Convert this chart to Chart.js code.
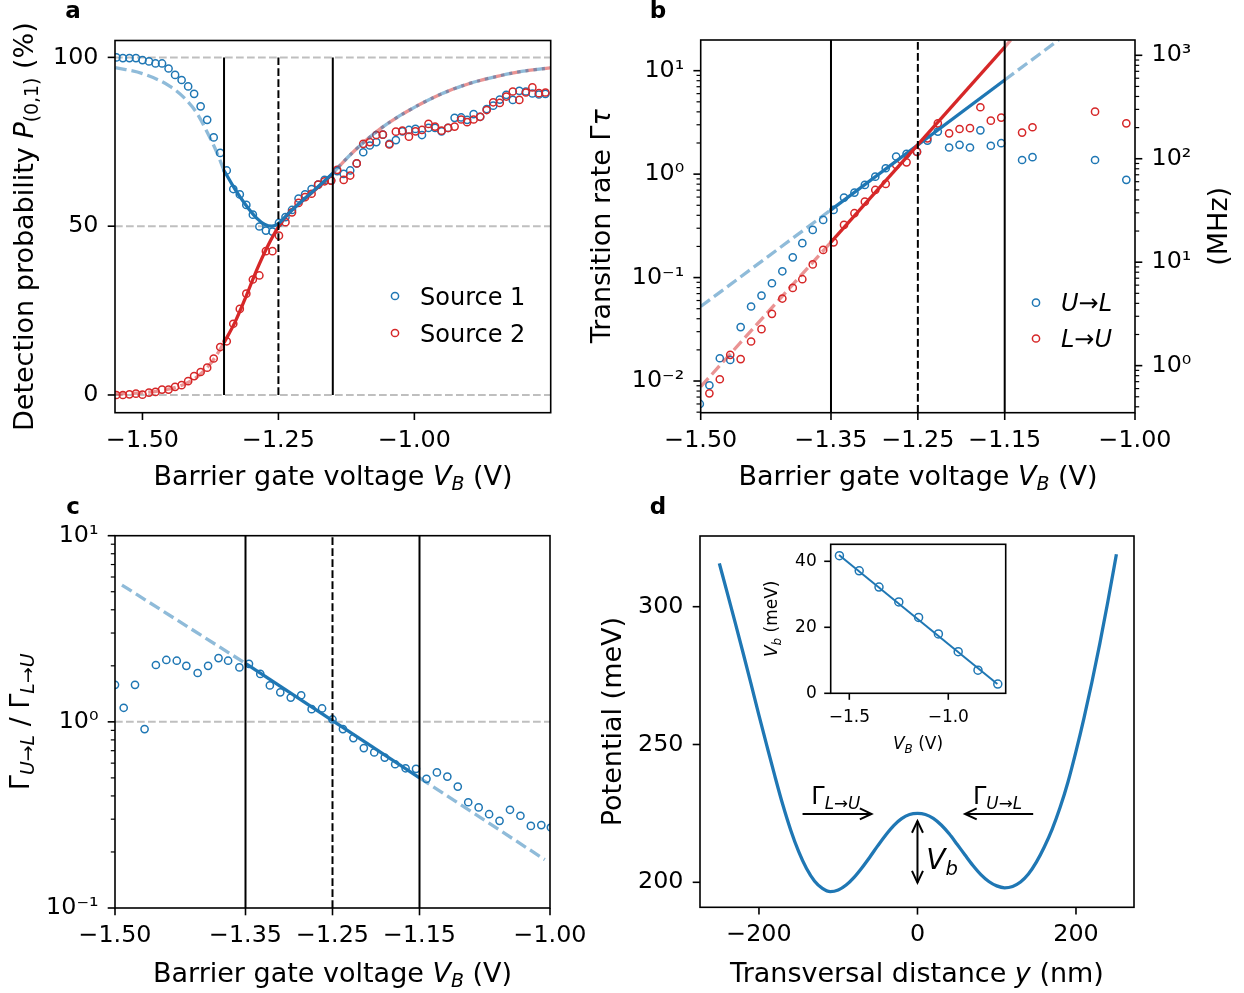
<!DOCTYPE html>
<html>
<head>
<meta charset="utf-8">
<title>Figure</title>
<script src="https://cdn.jsdelivr.net/npm/chart.js@4.4.1/dist/chart.umd.min.js"></script>
<style>
  html, body { margin: 0; padding: 0; background: #fff; }
  #fig { position: relative; width: 1244px; height: 993px; background: #fff; overflow: hidden; }
  #fig canvas { position: absolute; left: 0; top: 0; }
</style>
</head>
<body>
<div id="fig">
  <canvas id="chartA" width="1244" height="993"></canvas>
  <canvas id="chartB" width="1244" height="993"></canvas>
  <canvas id="chartC" width="1244" height="993"></canvas>
  <canvas id="chartD" width="1244" height="993"></canvas>
  <canvas id="chartInset" width="1244" height="993"></canvas>
</div>
<script>
/* ======================================================
   Datos
====================================================== */

// panel a: probabilidad de detección (%)
const vA = [-1.548,-1.536,-1.524,-1.512,-1.500,-1.488,-1.476,-1.464,-1.452,-1.440,
  -1.428,-1.416,-1.405,-1.393,-1.381,-1.369,-1.357,-1.345,-1.333,-1.321,
  -1.309,-1.297,-1.285,-1.273,-1.261,-1.249,-1.237,-1.225,-1.213,-1.201,
  -1.189,-1.177,-1.165,-1.153,-1.142,-1.130,-1.118,-1.106,-1.094,-1.082,
  -1.070,-1.058,-1.046,-1.034,-1.022,-1.010,-0.998,-0.986,-0.974,-0.962,
  -0.950,-0.938,-0.926,-0.914,-0.903,-0.891,-0.879,-0.867,-0.855,-0.843,
  -0.831,-0.819,-0.807,-0.795,-0.783,-0.771,-0.759];
const probSource1 = [100,99.8,99.8,99.8,99.2,98.8,98.2,98.2,96.7,94.8,
  93.3,91.4,89.2,85.5,81.5,76.3,71.7,66.5,61.0,59.4,
  56.3,53.4,49.9,48.7,48.4,51.0,52.7,54.8,58.2,59.4,
  61.0,62.3,63.7,63.5,66.3,65.5,66.5,68.6,71.9,73.9,
  74.9,77.1,74.4,75.5,78.1,78.5,78.8,77.0,79.1,79.1,
  78.1,79.1,82.1,82.2,81.5,83.2,82.4,84.7,85.7,87.5,
  88.9,87.4,90.1,89.9,89.3,89.0,89.2];
const probSource2 = [0,0,0.2,0.4,0.1,0.7,0.9,1.6,1.6,2.4,
  2.9,4.1,5.6,6.8,8.1,10.8,14.2,15.9,21.1,25.5,
  30.0,34.2,35.4,42.6,42.6,47.2,51.2,54.1,56.9,58.6,
  59.6,62.3,63.3,63.5,66.7,63.7,65.0,68.6,74.4,74.9,
  77.0,77.1,74.2,78.0,78.3,76.5,78.1,78.5,80.3,79.5,
  78.3,79.1,79.5,81.6,80.8,81.6,82.4,84.4,86.7,86.5,
  88.4,89.9,87.4,89.6,91.1,89.4,89.6];
const fitS1Left  = [[-1.550,97.0],[-1.500,95.2],[-1.450,91.5],[-1.420,87.5],[-1.400,83.5],[-1.380,77.5],[-1.365,72.5],[-1.350,66.5]];
const fitS1Mid   = [[-1.350,66.5],[-1.330,61.0],[-1.310,56.3],[-1.290,52.4],[-1.275,50.5],[-1.262,50.0],[-1.250,50.8],[-1.230,54.0],[-1.200,58.4],[-1.175,62.0],[-1.150,65.7]];
const fitS2Left  = [[-1.550,0.3],[-1.500,0.7],[-1.450,1.8],[-1.420,3.4],[-1.400,5.3],[-1.380,8.3],[-1.365,11.5],[-1.350,15.5]];
const fitS2Mid   = [[-1.350,15.5],[-1.330,21.5],[-1.310,29.0],[-1.290,37.0],[-1.270,44.0],[-1.250,49.8],[-1.230,54.0],[-1.200,58.3],[-1.175,61.8],[-1.150,65.5]];
const fitRightA  = [[-1.150,65.7],[-1.120,70.8],[-1.090,75.3],[-1.050,80.3],[-1.000,85.2],[-0.950,89.2],[-0.900,92.2],[-0.850,94.3],[-0.800,95.9],[-0.750,96.9]];
const refLevelsA = [0, 50, 100];

// panel b: tasas de transición
const vB = [-1.501,-1.490,-1.478,-1.466,-1.454,-1.442,-1.430,-1.418,-1.406,-1.394,
  -1.383,-1.371,-1.359,-1.347,-1.335,-1.323,-1.311,-1.299,-1.287,-1.275,
  -1.263,-1.251,-1.239,-1.227,-1.214,-1.202,-1.190,-1.178,-1.166,-1.154,
  -1.130,-1.118,-1.046,-1.010];
const rateUL = [0.0060,0.0091,0.0166,0.0160,0.0332,0.0525,0.0670,0.0881,0.115,0.157,
  0.215,0.289,0.361,0.451,0.593,0.663,0.787,0.946,1.14,1.48,
  1.57,1.65,2.11,2.58,1.81,1.92,1.81,2.65,1.88,1.99,
  1.37,1.46,1.37,0.88];
const rateLU = [0.0038,0.0076,0.0104,0.0179,0.0163,0.0241,0.0317,0.0446,0.0627,0.0794,
  0.0964,0.134,0.185,0.219,0.323,0.419,0.542,0.703,0.804,1.23,
  1.30,1.64,2.22,3.10,2.48,2.73,2.78,4.43,3.29,3.52,
  2.52,2.84,4.02,3.10];
const fitULDash1 = [[-1.50,0.0525],[-1.35,0.452]];
const fitULSolid = [[-1.35,0.452],[-1.15,8.13]];
const fitULDash2 = [[-1.15,8.13],[-1.088,19.8]];
const fitLUDash1 = [[-1.50,0.0088],[-1.35,0.22]];
const fitLUSolid = [[-1.35,0.22],[-1.15,16.9]];
const fitLUDash2 = [[-1.15,16.9],[-1.143,19.8]];
const MHZ_PER_UNIT = 71;

// panel c: cociente de tasas
const vC = [-1.500,-1.490,-1.477,-1.466,-1.453,-1.441,-1.429,-1.418,-1.405,-1.393,
  -1.381,-1.370,-1.357,-1.346,-1.333,-1.322,-1.310,-1.298,-1.286,-1.274,
  -1.262,-1.250,-1.238,-1.226,-1.214,-1.202,-1.190,-1.178,-1.166,-1.154,
  -1.142,-1.130,-1.118,-1.106,-1.094,-1.082,-1.070,-1.058,-1.046,-1.034,
  -1.022,-1.010,-0.999];
const rateRatio = [1.58,1.19,1.58,0.914,2.02,2.15,2.13,2.00,1.83,2.00,
  2.20,2.13,1.96,2.05,1.81,1.57,1.44,1.35,1.39,1.17,
  1.18,1.03,0.914,0.818,0.723,0.685,0.643,0.592,0.563,0.559,
  0.494,0.535,0.508,0.449,0.370,0.347,0.319,0.294,0.337,0.313,
  0.276,0.279,0.271];
const fitRatioDash1 = [[-1.492,5.43],[-1.35,2.06]];
const fitRatioSolid = [[-1.35,2.06],[-1.15,0.50]];
const fitRatioDash2 = [[-1.15,0.50],[-1.006,0.182]];

// líneas de referencia en V_B
const markV = [-1.35, -1.25, -1.15];
const markDash = [false, true, false];

// panel d: potencial de doble pozo
const yNm = [-250,-240,-230,-220,-210,-200,-190,-180,-170,-160,
  -150,-140,-130,-120,-110,-100,-90,-80,-70,-60,
  -50,-40,-30,-20,-10,0,10,20,30,40,
  50,60,70,80,90,100,110,120,130,140,
  150,160,170,180,190,200,210,220,230,240,251];
const potMeV = [315.7,305.0,294.2,283.2,272.0,260.6,249.5,238.6,228.2,219.0,
  211.2,205.0,200.5,197.8,196.6,197.2,199.0,201.8,205.3,209.2,
  213.3,217.2,220.6,223.1,224.6,225.0,224.6,223.2,220.8,217.6,
  213.8,209.9,206.1,202.8,200.3,198.7,198.0,198.5,200.1,203.0,
  207.3,212.8,219.3,227.2,236.5,247.5,259.5,272.5,286.5,301.5,319.0];

// inset: altura de barrera
const vInset = [-1.55,-1.45,-1.35,-1.25,-1.15,-1.05,-0.95,-0.85,-0.75];
const barrierInset = [41.7,37.1,32.2,27.7,23.0,18.0,12.6,7.0,2.8];
const fitInset = [[-1.552,41.9],[-0.752,2.8]];

// marcas de los ejes
const ticksVA = [-1.5, -1.25, -1.0];
const ticksVB = [-1.5, -1.35, -1.25, -1.15, -1.0];
const ticksProb = [0, 50, 100];
const ticksRate = [0.01, 0.1, 1, 10];
const ticksMHz = [1, 10, 100, 1000];
const ticksRatio = [0.1, 1, 10];
const ticksY = [-200, 0, 200];
const ticksPot = [200, 250, 300];
const ticksInsetX = [-1.5, -1.0];
const ticksInsetY = [0, 20, 40];

/* ======================================================
   Estilo
====================================================== */
const W = 1244, H = 993;
const FONT = 'DejaVu Sans';
const BLUE = '#1f77b4', RED = '#d62728';
const BLUE_L = 'rgba(31,119,180,0.5)', RED_L = 'rgba(214,39,40,0.5)';
const GREY = 'rgba(128,128,128,0.5)';
const FIT_DASH = [11.5, 5];
const REF_DASH = [7.7, 3.3];

const minus = s => s.replace('-', '\u2212');
const fmtFixed = d => v => minus(Number(v).toFixed(d));
const SUP = {'-': '\u207b', '0': '\u2070', '1': '\u00b9', '2': '\u00b2', '3': '\u00b3'};
const fmtPow = v => '10' + String(Math.round(Math.log10(v))).split('').map(c => SUP[c]).join('');

function logMinor(lo, hi) {
  const out = [];
  for (let e = Math.floor(Math.log10(lo)); e <= Math.ceil(Math.log10(hi)); e++) {
    for (let m = 2; m <= 9; m++) {
      const v = m * Math.pow(10, e);
      if (v >= lo && v <= hi) out.push(v);
    }
  }
  return out;
}

/* ======================================================
   Texto con cursivas y subíndices
====================================================== */
const T = t => ({t});
const I = t => ({t, i: true});
const S = t => ({t, i: true, sub: true});
const SN = t => ({t, sub: true});

function rich(ctx, o) {
  const size = o.size || 27;
  ctx.save();
  ctx.translate(o.x, o.y);
  if (o.rot) ctx.rotate(o.rot);
  ctx.fillStyle = '#000';
  ctx.textBaseline = 'alphabetic';
  ctx.textAlign = 'left';
  const items = o.parts.map(p => {
    const s = p.sub ? size * 0.7 : size;
    const font = `${p.i ? 'italic ' : ''}${o.weight || ''} ${s}px ${FONT}`;
    ctx.font = font;
    return {t: p.t, font, w: ctx.measureText(p.t).width, dy: p.sub ? size * 0.2 : 0};
  });
  const total = items.reduce((acc, it) => acc + it.w, 0);
  let cx = o.align === 'left' ? 0 : o.align === 'right' ? -total : -total / 2;
  const base = size * 0.36;
  items.forEach(it => {
    ctx.font = it.font;
    ctx.fillText(it.t, cx, base + it.dy);
    cx += it.w;
  });
  ctx.restore();
}

function arrowHead(ctx, xa, ya, xb, yb) {
  const ang = Math.atan2(yb - ya, xb - xa), L = 12.9, A = 0.44;
  ctx.beginPath();
  ctx.moveTo(xb - L * Math.cos(ang - A), yb - L * Math.sin(ang - A));
  ctx.lineTo(xb, yb);
  ctx.lineTo(xb - L * Math.cos(ang + A), yb - L * Math.sin(ang + A));
  ctx.stroke();
}
function arrow(ctx, x1, y1, x2, y2, both) {
  ctx.beginPath(); ctx.moveTo(x1, y1); ctx.lineTo(x2, y2); ctx.stroke();
  arrowHead(ctx, x1, y1, x2, y2);
  if (both) arrowHead(ctx, x2, y2, x1, y1);
}

/* ======================================================
   Plugin: marco, ticks, textos, leyendas
====================================================== */
const DECOR = {};

const decorPlugin = {
  id: 'decor',
  beforeDatasetsDraw(chart) {
    const d = DECOR[chart.canvas.id];
    if (!d || !d.fill) return;
    const a = chart.chartArea, ctx = chart.ctx;
    ctx.save();
    ctx.fillStyle = '#fff';
    ctx.fillRect(a.left, a.top, a.right - a.left, a.bottom - a.top);
    ctx.restore();
  },
  afterDraw(chart) {
    const d = DECOR[chart.canvas.id] || {};
    const ctx = chart.ctx, a = chart.chartArea;
    ctx.save();
    ctx.strokeStyle = '#000';
    ctx.lineCap = 'butt';

    Object.values(chart.scales).forEach(s => {
      const tick = (v, len, lw) => {
        if (v < Math.min(s.min, s.max) || v > Math.max(s.min, s.max)) return;
        const p = s.getPixelForValue(v);
        ctx.lineWidth = lw;
        ctx.beginPath();
        if (s.position === 'bottom') { ctx.moveTo(p, a.bottom); ctx.lineTo(p, a.bottom + len); }
        else if (s.position === 'left') { ctx.moveTo(a.left, p); ctx.lineTo(a.left - len, p); }
        else { ctx.moveTo(a.right, p); ctx.lineTo(a.right + len, p); }
        ctx.stroke();
      };
      s.ticks.forEach(t => tick(t.value, d.tickLen || 7.3, 1.6));
      ((d.minor || {})[s.id] || []).forEach(v => tick(v, 4.2, 1.2));
    });

    ctx.lineWidth = 1.6;
    ctx.strokeRect(a.left, a.top, a.right - a.left, a.bottom - a.top);

    (d.legend || []).forEach(e => {
      ctx.strokeStyle = e.color;
      ctx.lineWidth = 1.5;
      ctx.beginPath();
      ctx.arc(e.x, e.y, 3.6, 0, Math.PI * 2);
      ctx.stroke();
      rich(ctx, {parts: e.parts, x: e.x + 25, y: e.y, size: 24, align: 'left'});
    });

    (d.texts || []).forEach(t => rich(ctx, t));

    (d.letters || []).forEach(([s, x, y]) => {
      ctx.fillStyle = '#000';
      ctx.font = `bold 23px ${FONT}`;
      ctx.textAlign = 'center';
      ctx.textBaseline = 'alphabetic';
      ctx.fillText(s, x, y);
    });

    if (d.extra) d.extra(chart, ctx);
    ctx.restore();
  }
};

/* ======================================================
   Utilidades de gráficas
====================================================== */
function axis(type, position, min, max, ticks, fmt, fit, opts = {}) {
  return {
    type, position, min, max,
    grid: {display: false, drawTicks: false},
    border: {display: false},
    ticks: {
      color: '#000',
      font: {family: FONT, size: opts.size || 23.8},
      padding: opts.pad != null ? opts.pad : (position === 'bottom' ? 13.5 : 16.5),
      autoSkip: false, maxRotation: 0, minRotation: 0,
      callback: fmt
    },
    afterBuildTicks: s => { s.ticks = ticks.map(value => ({value})); },
    afterFit: fit
  };
}
const fitLeft = px => s => { s.width = px; };
const fitBottom = py => s => { s.height = H - py; };
const fitRight = px => s => { s.width = W - px; };

const toPts = (xs, ys) => xs.map((x, i) => ({x, y: ys[i]})).filter(p => p.y != null);
const toXY = pairs => pairs.map(([x, y]) => ({x, y}));

function markerSet(data, color, order, r = 3.6) {
  return {
    data, showLine: false, pointStyle: 'circle', pointRadius: r, pointBorderWidth: 1.5,
    pointBorderColor: color, pointBackgroundColor: 'rgba(0,0,0,0)', order, clip: 0
  };
}
function lineSet(data, color, width, dash, order, extra = {}) {
  return Object.assign({
    data, showLine: true, pointRadius: 0, borderColor: color, borderWidth: width,
    borderDash: dash || [], fill: false, order, clip: 0
  }, extra);
}
function vLines(lo, hi) {
  return markV.map((v, i) => lineSet([{x: v, y: lo}, {x: v, y: hi}], '#000', 2, markDash[i] ? REF_DASH : [], 0));
}

function makeChart(id, area, scales, datasets, hasRight) {
  return new Chart(document.getElementById(id), {
    type: 'scatter',
    data: {datasets},
    options: {
      responsive: false,
      animation: false,
      events: [],
      layout: {padding: {left: 0, top: area.top, right: hasRight ? 0 : W - area.right, bottom: 0}},
      scales,
      plugins: {legend: {display: false}, tooltip: {enabled: false}}
    },
    plugins: [decorPlugin]
  });
}

/* ======================================================
   Panel a
====================================================== */
const areaA = {left: 115, right: 550.7, top: 40.5, bottom: 412.7};
const xA = [-1.5505, -0.7493], yA = [-5.25, 105.0];
DECOR.chartA = {
  letters: [['a', 73, 18]],
  legend: [
    {x: 395, y: 296, color: BLUE, parts: [T('Source 1')]},
    {x: 395, y: 333, color: RED, parts: [T('Source 2')]}
  ],
  texts: [
    {parts: [T('Detection probability '), I('P'), SN('(0,1)'), T(' (%)')], x: 23, y: 226.6, rot: -Math.PI / 2},
    {parts: [T('Barrier gate voltage '), I('V'), S('B'), T(' (V)')], x: 333, y: 475.3}
  ]
};
makeChart('chartA', areaA, {
  x: axis('linear', 'bottom', xA[0], xA[1], ticksVA, fmtFixed(2), fitBottom(areaA.bottom)),
  y: axis('linear', 'left', yA[0], yA[1], ticksProb, v => String(v), fitLeft(areaA.left))
}, [
  ...vLines(0, 100),
  lineSet(toXY(fitS1Mid), BLUE, 3.3, [], 1, {cubicInterpolationMode: 'monotone'}),
  lineSet(toXY(fitS2Mid), RED, 3.3, [], 1, {cubicInterpolationMode: 'monotone'}),
  lineSet(toXY(fitS1Left), BLUE_L, 3.3, FIT_DASH, 1, {cubicInterpolationMode: 'monotone'}),
  lineSet(toXY(fitS2Left), RED_L, 3.3, FIT_DASH, 1, {cubicInterpolationMode: 'monotone'}),
  lineSet(toXY(fitRightA), BLUE_L, 3.3, FIT_DASH, 1, {cubicInterpolationMode: 'monotone'}),
  lineSet(toXY(fitRightA), RED_L, 3.3, FIT_DASH, 1, {cubicInterpolationMode: 'monotone', borderDashOffset: 8}),
  markerSet(toPts(vA, probSource2), RED, 2),
  markerSet(toPts(vA, probSource1), BLUE, 3),
  ...refLevelsA.map(l => lineSet([{x: xA[0], y: l}, {x: xA[1], y: l}], GREY, 2, REF_DASH, 4))
]);

/* ======================================================
   Panel b
====================================================== */
const areaB = {left: 700.7, right: 1135, top: 40, bottom: 412.7};
const yB = [0.00494, 19.8];
DECOR.chartB = {
  letters: [['b', 658, 18]],
  minor: {y: logMinor(yB[0], yB[1]), y2: logMinor(yB[0] * MHZ_PER_UNIT, yB[1] * MHZ_PER_UNIT)},
  legend: [
    {x: 1036, y: 302.7, color: BLUE, parts: [I('U\u2192L')]},
    {x: 1036, y: 338.5, color: RED, parts: [I('L\u2192U')]}
  ],
  texts: [
    {parts: [T('Transition rate '), T('\u0393'), I('\u03c4')], x: 600.5, y: 226.3, rot: -Math.PI / 2},
    {parts: [T('(MHz)')], x: 1217.5, y: 226.3, rot: -Math.PI / 2},
    {parts: [T('Barrier gate voltage '), I('V'), S('B'), T(' (V)')], x: 918, y: 475.3}
  ]
};
makeChart('chartB', areaB, {
  x: axis('linear', 'bottom', -1.5, -1.0, ticksVB, fmtFixed(2), fitBottom(areaB.bottom)),
  y: axis('logarithmic', 'left', yB[0], yB[1], ticksRate, fmtPow, fitLeft(areaB.left)),
  y2: axis('logarithmic', 'right', yB[0] * MHZ_PER_UNIT, yB[1] * MHZ_PER_UNIT, ticksMHz, fmtPow, fitRight(areaB.right))
}, [
  ...vLines(yB[0], yB[1]),
  lineSet(toXY(fitLUSolid), RED, 3.3, [], 1),
  lineSet(toXY(fitULSolid), BLUE, 3.3, [], 1),
  lineSet(toXY(fitULDash1), BLUE_L, 3.3, FIT_DASH, 1),
  lineSet(toXY(fitULDash2), BLUE_L, 3.3, FIT_DASH, 1),
  lineSet(toXY(fitLUDash1), RED_L, 3.3, FIT_DASH, 1),
  lineSet(toXY(fitLUDash2), RED_L, 3.3, FIT_DASH, 1),
  markerSet(toPts(vB, rateLU), RED, 2),
  markerSet(toPts(vB, rateUL), BLUE, 3)
], true);

/* ======================================================
   Panel c
====================================================== */
const areaC = {left: 115, right: 550, top: 535.7, bottom: 908};
const yC = [0.1, 10];
DECOR.chartC = {
  letters: [['c', 73, 514]],
  minor: {y: logMinor(yC[0], yC[1])},
  texts: [
    {parts: [T('\u0393'), S('U\u2192L'), T(' / '), T('\u0393'), S('L\u2192U')], x: 19, y: 721.8, rot: -Math.PI / 2},
    {parts: [T('Barrier gate voltage '), I('V'), S('B'), T(' (V)')], x: 332.5, y: 972}
  ]
};
makeChart('chartC', areaC, {
  x: axis('linear', 'bottom', -1.5, -1.0, ticksVB, fmtFixed(2), fitBottom(areaC.bottom)),
  y: axis('logarithmic', 'left', yC[0], yC[1], ticksRatio, fmtPow, fitLeft(areaC.left))
}, [
  ...vLines(yC[0], yC[1]),
  lineSet(toXY(fitRatioSolid), BLUE, 3.3, [], 1),
  lineSet(toXY(fitRatioDash1), BLUE_L, 3.3, FIT_DASH, 1),
  lineSet(toXY(fitRatioDash2), BLUE_L, 3.3, FIT_DASH, 1),
  markerSet(toPts(vC, rateRatio), BLUE, 2),
  lineSet([{x: -1.5, y: 1}, {x: -1.0, y: 1}], GREY, 2, REF_DASH, 4)
]);

/* ======================================================
   Panel d
====================================================== */
const areaD = {left: 700, right: 1134, top: 536, bottom: 907.3};
DECOR.chartD = {
  letters: [['d', 658, 514]],
  texts: [
    {parts: [T('Potential (meV)')], x: 611.5, y: 721.6, rot: -Math.PI / 2},
    {parts: [T('Transversal distance '), I('y'), T(' (nm)')], x: 917, y: 972}
  ],
  extra(chart, ctx) {
    const sx = chart.scales.x, sy = chart.scales.y;
    const px = v => sx.getPixelForValue(v), py = v => sy.getPixelForValue(v);
    ctx.strokeStyle = '#000';
    ctx.lineWidth = 2;
    arrow(ctx, px(-145), py(224.8), px(-58), py(224.8));
    arrow(ctx, px(146), py(224.8), px(60), py(224.8));
    arrow(ctx, px(0), py(222.2), px(0), py(199.9), true);
    rich(ctx, {parts: [T('\u0393'), S('L\u2192U')], x: px(-103), y: py(231.5), size: 24});
    rich(ctx, {parts: [T('\u0393'), S('U\u2192L')], x: px(101), y: py(231.5), size: 24});
    rich(ctx, {parts: [I('V'), S('b')], x: px(31), y: py(208.5), size: 28});
  }
};
makeChart('chartD', areaD, {
  x: axis('linear', 'bottom', -274.4, 273.2, ticksY, v => minus(String(v)), fitBottom(areaD.bottom)),
  y: axis('linear', 'left', 190.93, 325.65, ticksPot, v => String(v), fitLeft(areaD.left))
}, [
  lineSet(toPts(yNm, potMeV), BLUE, 3.3, [], 1, {cubicInterpolationMode: 'monotone'})
]);

/* ======================================================
   Inset
====================================================== */
const areaIn = {left: 830.7, right: 1005.7, top: 544.3, bottom: 693.3};
DECOR.chartInset = {
  fill: true,
  tickLen: 6.5,
  texts: [
    {parts: [I('V'), S('b'), T(' (meV)')], x: 771, y: 618.8, size: 17, rot: -Math.PI / 2},
    {parts: [I('V'), S('B'), T(' (V)')], x: 918, y: 743, size: 17}
  ]
};
makeChart('chartInset', areaIn, {
  x: axis('linear', 'bottom', -1.594, -0.71, ticksInsetX, fmtFixed(1), fitBottom(areaIn.bottom), {size: 17, pad: 14}),
  y: axis('linear', 'left', 0, 45.15, ticksInsetY, v => String(v), fitLeft(areaIn.left), {size: 17, pad: 14})
}, [
  lineSet(toXY(fitInset), BLUE, 2, [], 1),
  markerSet(toPts(vInset, barrierInset), BLUE, 2, 4)
]);
</script>
</body>
</html>
